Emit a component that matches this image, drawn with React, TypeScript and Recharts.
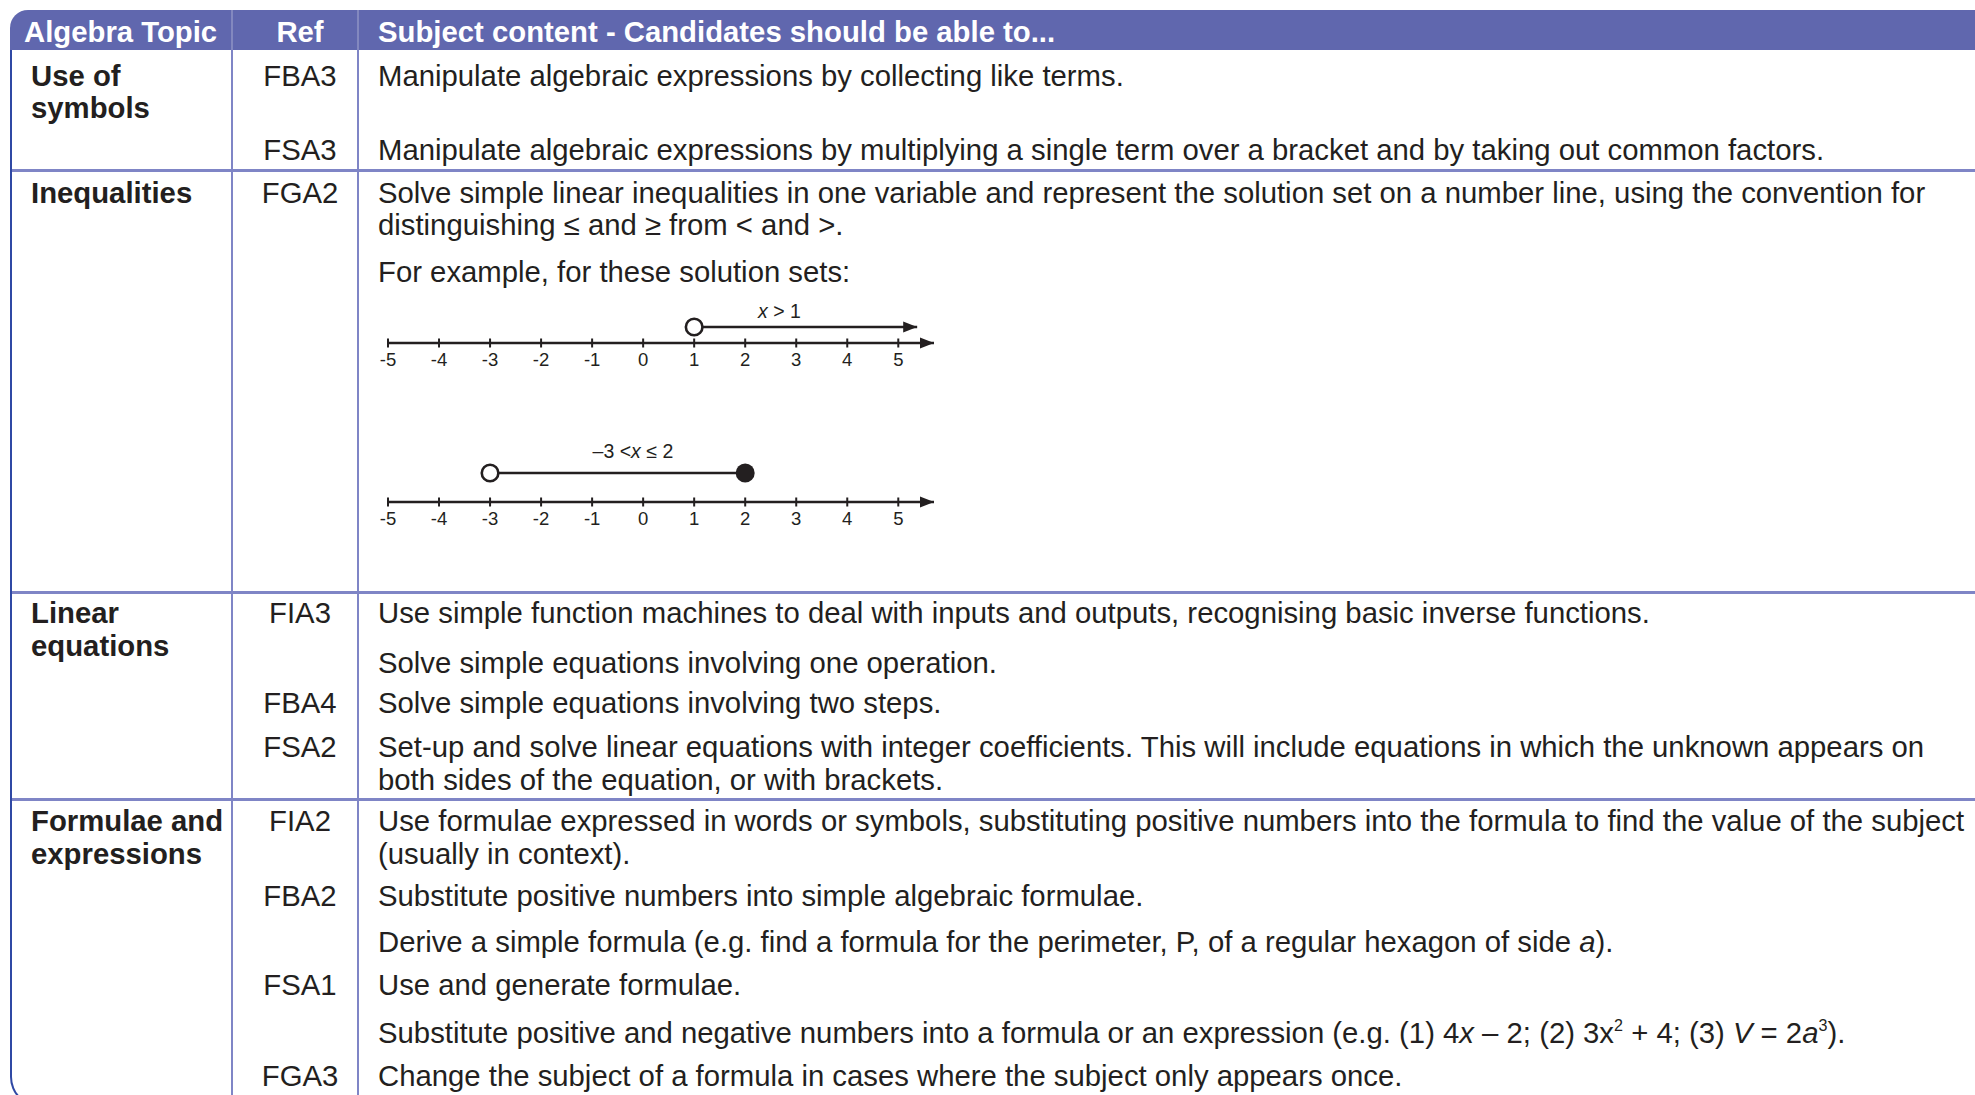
import React from "react";
import { ScatterChart, Scatter, XAxis, YAxis } from "recharts";

const INK = "#231f20";
const HEAD = "#6067ae";
const RULE = "#7f85c6";
const FRAME = "#2f48a4";
const FONT = "'Liberation Sans', Arial, Helvetica, sans-serif";
const TEXT_SIZE = 29.3;

// table content
const headers = ["Algebra Topic", "Ref", "Subject content - Candidates should be able to..."];
const topicTitles = [["Use of", "symbols"], ["Inequalities"], ["Linear", "equations"], ["Formulae and", "expressions"]];
const refCodes = ["FBA3", "FSA3", "FGA2", "", "FIA3", "", "FBA4", "FSA2", "FIA2", "FBA2", "", "FSA1", "", "FGA3"];
const contentLines = [
  ["Manipulate algebraic expressions by collecting like terms."],
  ["Manipulate algebraic expressions by multiplying a single term over a bracket and by taking out common factors."],
  [
    "Solve simple linear inequalities in one variable and represent the solution set on a number line, using the convention for",
    "distinguishing ≤ and ≥ from < and >.",
  ],
  ["For example, for these solution sets:"],
  ["Use simple function machines to deal with inputs and outputs, recognising basic inverse functions."],
  ["Solve simple equations involving one operation."],
  ["Solve simple equations involving two steps."],
  [
    "Set-up and solve linear equations with integer coefficients. This will include equations in which the unknown appears on",
    "both sides of the equation, or with brackets.",
  ],
  [
    "Use formulae expressed in words or symbols, substituting positive numbers into the formula to find the value of the subject",
    "(usually in context).",
  ],
  ["Substitute positive numbers into simple algebraic formulae."],
  ["Derive a simple formula (e.g. find a formula for the perimeter, P, of a regular hexagon of side *a*)."],
  ["Use and generate formulae."],
  ["Substitute positive and negative numbers into a formula or an expression (e.g. (1) 4*x* – 2; (2) 3x^2 + 4; (3) *V* = 2*a*^3)."],
  ["Change the subject of a formula in cases where the subject only appears once."],
];

// number line content
const axisTicks = [-5, -4, -3, -2, -1, 0, 1, 2, 3, 4, 5];
const axisEnd = 5.7;
const solutionSets = [
  { label: "x > 1", from: 1, to: 5.37, fromMark: "open", toMark: "arrow" },
  { label: "–3 <x ≤ 2", from: -3, to: 2, fromMark: "open", toMark: "closed" },
];

// layout (pixel centres of text lines, rules)
const topicRowY = [75.6, 192.7, 613.4, 821];
const contentRowY = [75.6, 150, 192.7, 272, 613.4, 662.5, 703, 747, 821, 895.6, 942, 985, 1033, 1075.7];
const lineGap = 32.5;
const rowRulesY = [170, 592, 799];
const numberLineAxisY = [343, 502];
const numberLinePlotH = [32, 58];
const labelAnchors = [{ x: 2.67, level: 2 }, { x: -0.2, level: 1.75 }];

function rich(s: string) {
  return s.split(/(\*[^*]+\*|\^\d)/).map((part, i) => {
    if (part.startsWith("*")) return <i key={i}>{part.slice(1, -1)}</i>;
    if (part.startsWith("^"))
      return (
        <span key={i} style={{ fontSize: "0.55em", position: "relative", top: "-0.75em", lineHeight: 0 }}>
          {part.slice(1)}
        </span>
      );
    return <React.Fragment key={i}>{part}</React.Fragment>;
  });
}

function Mark(props: any) {
  const { cx, cy, payload } = props;
  if (payload.mark === "arrow") {
    return <polygon points={`${cx},${cy} ${cx - 14},${cy - 5.5} ${cx - 14},${cy + 5.5}`} fill={INK} />;
  }
  if (payload.mark === "closed") return <circle cx={cx} cy={cy} r={9.5} fill={INK} />;
  return <circle cx={cx} cy={cy} r={8.3} fill="#fff" stroke={INK} strokeWidth={2.6} />;
}

function LabelMark(props: any) {
  const { cx, cy, payload } = props;
  const [pre, post] = payload.text.split("x");
  return (
    <text x={cx} y={cy + 6.5} textAnchor="middle" fontFamily={FONT} fontSize={19.5} fill={INK}>
      {pre}
      <tspan fontStyle="italic">x</tspan>
      {post}
    </text>
  );
}

function AxisTick(props: any) {
  const { x, y, payload } = props;
  return (
    <g>
      <line x1={x} x2={x} y1={y - 4.5} y2={y + 4.5} stroke={INK} strokeWidth={2} />
      <text x={x} y={y + 23} textAnchor="middle" fontFamily={FONT} fontSize={18.5} fill={INK}>
        {payload.value}
      </text>
    </g>
  );
}

function NumberLine({ idx }: { idx: number }) {
  const set = solutionSets[idx];
  const anchor = labelAnchors[idx];
  const plotH = numberLinePlotH[idx];
  const marginTop = 18;
  const axisArea = 34;
  const height = marginTop + plotH + axisArea;
  const top = numberLineAxisY[idx] - plotH - marginTop;
  const segment = [
    { x: set.from, y: 1, mark: set.fromMark },
    { x: set.to, y: 1, mark: set.toMark },
  ];
  const arrow = [{ x: axisEnd, y: 0, mark: "arrow" }];
  const label = [{ x: anchor.x, y: anchor.level, text: set.label }];
  return (
    <div style={{ position: "absolute", left: 370, top, width: 580, height }}>
      <ScatterChart width={580} height={height} margin={{ top: marginTop, right: 16, bottom: 0, left: 18 }}>
        <XAxis
          type="number"
          dataKey="x"
          domain={[-5, axisEnd]}
          ticks={axisTicks}
          interval={0}
          allowDataOverflow
          height={axisArea}
          axisLine={{ stroke: INK, strokeWidth: 2.6 }}
          tickLine={false}
          tickSize={0}
          tickMargin={0}
          tick={AxisTick}
        />
        <YAxis type="number" dataKey="y" domain={[0, 2]} hide />
        <Scatter data={arrow} shape={Mark} isAnimationActive={false} />
        <Scatter
          data={segment}
          line={{ stroke: INK, strokeWidth: 2.6 }}
          lineType="joint"
          shape={Mark}
          isAnimationActive={false}
        />
        <Scatter data={label} shape={LabelMark} isAnimationActive={false} />
      </ScatterChart>
    </div>
  );
}

const lineStyle = (y: number): React.CSSProperties => ({
  position: "absolute",
  top: y - 17,
  height: 34,
  lineHeight: "34px",
  whiteSpace: "nowrap",
});

const headStyle: React.CSSProperties = {
  position: "absolute",
  top: 12,
  lineHeight: "40px",
  color: "#fff",
  fontWeight: 700,
  whiteSpace: "nowrap",
};

export default function App() {
  return (
    <div
      style={{
        position: "fixed",
        left: 0,
        top: 0,
        width: 1975,
        height: 1095,
        overflow: "hidden",
        background: "#fff",
        fontFamily: FONT,
        fontSize: TEXT_SIZE,
        color: INK,
      }}
    >
      {/* frame, bottom edge falls just below the page */}
      <div
        style={{
          position: "absolute",
          left: 10,
          top: 30,
          width: 2200,
          height: 1075,
          borderLeft: `2.5px solid ${FRAME}`,
          borderBottom: `2.5px solid ${FRAME}`,
          borderBottomLeftRadius: 30,
        }}
      />
      {/* header */}
      <div
        style={{
          position: "absolute",
          left: 10,
          top: 10,
          width: 2200,
          height: 40,
          background: HEAD,
          borderTopLeftRadius: 18,
        }}
      />
      {[231, 357].map((x) => (
        <React.Fragment key={x}>
          <div style={{ position: "absolute", left: x, top: 10, width: 2, height: 40, background: "rgba(255,255,255,0.22)" }} />
          <div style={{ position: "absolute", left: x, top: 50, width: 2, height: 1045, background: RULE }} />
        </React.Fragment>
      ))}
      {rowRulesY.map((y) => (
        <div key={y} style={{ position: "absolute", left: 12, top: y - 1.5, width: 2200, height: 3, background: RULE }} />
      ))}
      <div style={{ ...headStyle, left: 24 }}>{headers[0]}</div>
      <div style={{ ...headStyle, left: 237, width: 126, textAlign: "center" }}>{headers[1]}</div>
      <div style={{ ...headStyle, left: 378 }}>{headers[2]}</div>

      {topicTitles.map((lines, r) =>
        lines.map((t, k) => (
          <div key={`t${r}${k}`} style={{ ...lineStyle(topicRowY[r] + k * lineGap), left: 31, fontWeight: 700 }}>
            {t}
          </div>
        ))
      )}
      {refCodes.map((c, r) =>
        c ? (
          <div key={`r${r}`} style={{ ...lineStyle(contentRowY[r]), left: 237, width: 126, textAlign: "center" }}>
            {c}
          </div>
        ) : null
      )}
      {contentLines.map((lines, r) =>
        lines.map((t, k) => (
          <div key={`c${r}${k}`} style={{ ...lineStyle(contentRowY[r] + k * lineGap), left: 378 }}>
            {rich(t)}
          </div>
        ))
      )}

      <NumberLine idx={0} />
      <NumberLine idx={1} />
    </div>
  );
}
